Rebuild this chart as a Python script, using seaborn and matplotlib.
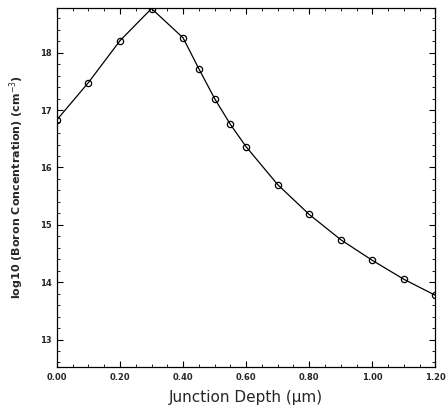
import numpy as np
import pandas as pd
import matplotlib
matplotlib.use("Agg")
import matplotlib.pyplot as plt
import seaborn as sns
from matplotlib.ticker import MultipleLocator

# junction depth (um) and log10 boron concentration
depth = [0.0, 0.1, 0.2, 0.3, 0.4, 0.45, 0.5, 0.55, 0.6, 0.7, 0.8, 0.9, 1.0, 1.1, 1.2]
log_conc = [16.83, 17.48, 18.21, 18.77, 18.26, 17.72, 17.20, 16.75, 16.36,
            15.70, 15.18, 14.74, 14.38, 14.05, 13.77]

x_ticks = [0.0, 0.2, 0.4, 0.6, 0.8, 1.0, 1.2]
x_labels = ["0.00", "0.20", "0.40", "0.60", "0.80", "1.00", "1.20"]
y_ticks = [13, 14, 15, 16, 17, 18]
y_labels = ["13", "14", "15", "16", "17", "18"]

df = pd.DataFrame({"depth": depth, "log_conc": log_conc})

sns.set_style("ticks")
plt.rcParams['font.family'] = ['DejaVu Sans']

fig = plt.figure(figsize=(4.48, 4.2), dpi=100)
ax = fig.add_axes([0.127, 0.126, 0.845, 0.855])

sns.lineplot(data=df, x="depth", y="log_conc", ax=ax, color="black",
             linewidth=0.9, marker="o", markersize=4.5,
             markerfacecolor="none", markeredgecolor="black",
             markeredgewidth=0.9)

ax.set_xlim(0.0, 1.2)
ax.set_ylim(12.52, 18.78)
ax.set_xticks(x_ticks)
ax.set_xticklabels(x_labels, fontsize=6, fontweight="bold")
ax.set_yticks(y_ticks)
ax.set_yticklabels(y_labels, fontsize=6, fontweight="bold")
ax.xaxis.set_minor_locator(MultipleLocator(0.05))
ax.yaxis.set_minor_locator(MultipleLocator(0.2))
ax.tick_params(which="both", direction="in", top=True, right=True, color="black")
ax.tick_params(which="major", length=4, width=0.8, pad=4)
ax.tick_params(which="minor", length=2, width=0.6)
for s in ax.spines.values():
    s.set_linewidth(0.9)
    s.set_color("black")

ax.set_xlabel("Junction Depth (μm)", fontsize=11, labelpad=6)
ax.set_ylabel("log10 (Boron Concentration) (cm$^{-3}$)", fontsize=8,
              fontweight="bold", labelpad=10)

fig.savefig("out.png", dpi=100)
